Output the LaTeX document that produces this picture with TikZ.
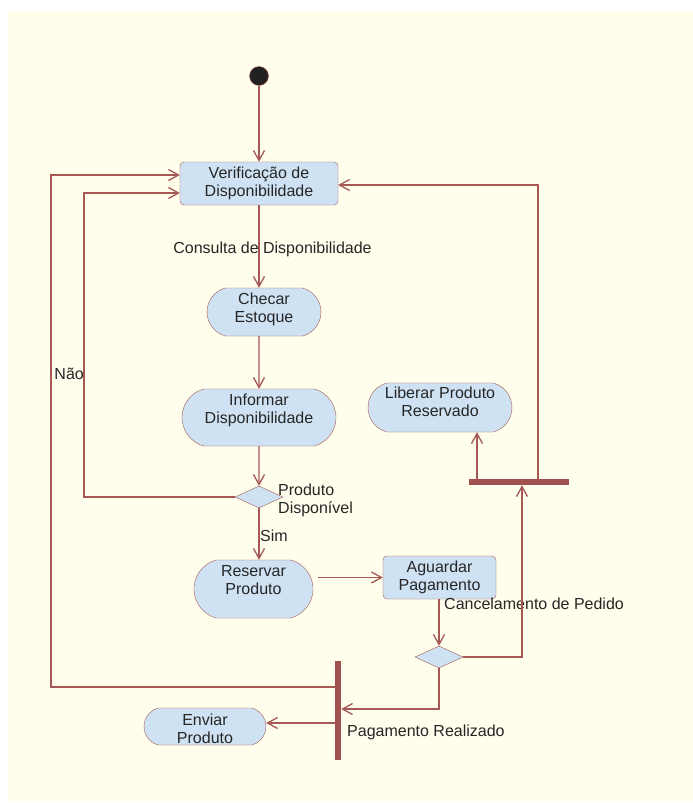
\documentclass[tikz,border=0pt]{standalone}
\usepackage{fontspec}
\setmainfont{Liberation Sans}
\usepackage{tikz}
\usetikzlibrary{arrows.meta, shapes.misc, shapes.geometric}
\definecolor{bgyellow}{RGB}{255,253,235}
\definecolor{actblue}{RGB}{207,226,243}
\definecolor{umlred}{RGB}{166,88,85}
\definecolor{barred}{RGB}{160,80,78}
\definecolor{txtgray}{RGB}{38,38,38}
\tikzstyle{act}=[draw=umlred, fill=actblue, rounded rectangle, rounded rectangle arc length=150, inner sep=2pt, text=txtgray]
\tikzstyle{actbox}=[draw=umlred, fill=actblue, rectangle, rounded corners=4pt, inner sep=2pt, text=txtgray]
\tikzstyle{decision}=[draw=umlred, fill=actblue, diamond, inner sep=0pt, minimum width=48pt, minimum height=22pt]
\tikzstyle{syncbar}=[fill=barred, inner sep=0pt]
\tikzstyle{lbl}=[inner sep=0pt, text=txtgray]
\tikzstyle{flow}=[draw=umlred, line width=1.3pt, ->]
% first baseline sits #1/2 above the node centre
\newcommand{\acttext}[2]{\raisebox{0pt}[0pt][#1]{\begin{tabular}[t]{@{}c@{}}#2\end{tabular}}}

\begin{document}
\begin{tikzpicture}[x=1pt,y=-1pt,>={Straight Barb[length=10pt,width=11pt]},font=\fontsize{16}{18}\selectfont]
  \useasboundingbox (0,0) rectangle (693,803);
  \fill[bgyellow] (8,11) rectangle (693,801);

  \node[circle, draw=umlred, fill=black!87, minimum size=19pt, inner sep=0pt] (start) at (259,76) {};
  \node[actbox, minimum width=158pt, minimum height=43pt] (verif) at (259,183.5) {\acttext{11pt}{Verificação de\\Disponibilidade}};
  \node[act, minimum width=118pt, minimum height=48pt] (checar) at (264,312) {\acttext{16pt}{Checar\\Estoque}};
  \node[act, minimum width=158pt, minimum height=57pt] (informar) at (259,417.5) {\acttext{25pt}{Informar\\Disponibilidade}};
  \node[decision] (disp) at (259,497) {};
  \node[act, minimum width=123pt, minimum height=58pt] (reservar) at (253.5,589) {\acttext{26pt}{Reservar\\Produto}};
  \node[actbox, minimum width=113pt, minimum height=43pt] (aguardar) at (439.5,577.5) {\acttext{11pt}{Aguardar\\Pagamento}};
  \node[decision] (pagto) at (439,657) {};
  \node[act, minimum width=148pt, minimum height=49pt] (liberar) at (440,407.5) {\acttext{19pt}{Liberar Produto\\Reservado}};
  \node[syncbar, minimum width=100pt, minimum height=6pt] (forkcanc) at (519,482) {};
  \node[syncbar, minimum width=6pt, minimum height=99pt] (forkpag) at (338,710.5) {};
  \node[act, minimum width=126pt, minimum height=37pt] (enviar) at (205,726.5) {\acttext{3pt}{Enviar\\Produto}};

  % labels
  \node[lbl, anchor=base] (lconsulta) at (272.5,253) {Consulta de Disponibilidade};
  \node[lbl, anchor=base east] (lnao) at (84,379) {Não};
  \node[lbl, anchor=base west] (lprod) at (278,495) {\begin{tabular}[t]{@{}l@{}}Produto\\Disponível\end{tabular}};
  \node[lbl, anchor=base west] (lsim) at (260,541) {Sim};
  \node[lbl, anchor=base west] (lcanc) at (444,609) {Cancelamento de Pedido};
  \node[lbl, anchor=base west] (lpag) at (347,736) {Pagamento Realizado};
  \coordinate (leftrail) at (51,430);

  % flows
  \draw[flow] (start) -- (verif);
  \draw[flow] (verif) -- (verif |- checar.north);
  \draw[flow] (informar |- checar.south) -- (informar);
  \draw[flow] (informar) -- (disp);
  \draw[flow] (disp.west) -| (lnao.east) |- ([yshift=-9.5pt]verif.west);
  \draw[flow] (disp) -- (disp |- reservar.north);
  \draw[flow, shorten <=5pt] (reservar.east |- aguardar.west) -- (aguardar.west);
  \draw[flow] (aguardar.south -| pagto) -- (pagto);
  \draw[flow] (pagto.east) -| ([xshift=3pt]forkcanc.south);
  \draw[flow] ([xshift=19pt]forkcanc.north) |- ([yshift=-1.5pt]verif.east);
  \draw[flow] ([xshift=-42pt]forkcanc.north) -- ([xshift=-42pt]forkcanc.north |- liberar.south);
  \draw[flow] (pagto.south) |- ([yshift=1.5pt]forkpag.east);
  \draw[flow] ([yshift=-12.5pt]forkpag.west) -- ([yshift=-12.5pt]forkpag.west -| enviar.east);
  \draw[flow] ([yshift=23.5pt]forkpag.west) -| (leftrail) |- ([yshift=8.5pt]verif.west);
\end{tikzpicture}
\end{document}
